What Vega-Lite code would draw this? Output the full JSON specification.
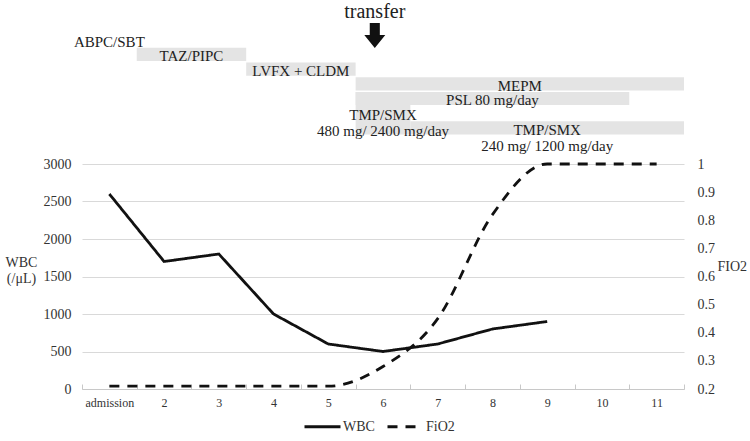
{
  "$schema": "https://vega.github.io/schema/vega-lite/v6.json",
  "padding": {"left": 5, "top": 0, "right": 0, "bottom": 0},
  "spacing": 3,
  "datasets": {
    "regimens": [
      {"label": "ABPC/SBT", "first_day": 1, "last_day": 1, "row": 0, "rows": 1},
      {"label": "TAZ/PIPC", "first_day": 2, "last_day": 3, "row": 1, "rows": 1},
      {"label": "LVFX + CLDM", "first_day": 4, "last_day": 5, "row": 2, "rows": 1},
      {"label": "MEPM", "first_day": 6, "last_day": 11, "row": 3, "rows": 1},
      {"label": "PSL 80 mg/day", "first_day": 6, "last_day": 10, "row": 4, "rows": 1},
      {"label": "TMP/SMX\n480 mg/ 2400 mg/day", "first_day": 6, "last_day": 6, "row": 4, "rows": 3},
      {"label": "TMP/SMX\n240 mg/ 1200 mg/day", "first_day": 7, "last_day": 11, "row": 6, "rows": 1}
    ],
    "events": [
      {"event": "transfer", "day": 5.85, "row": -1}
    ],
    "daily": [
      {"day": 1, "WBC": 2600, "FiO2": 0.21},
      {"day": 2, "WBC": 1700, "FiO2": 0.21},
      {"day": 3, "WBC": 1800, "FiO2": 0.21},
      {"day": 4, "WBC": 1000, "FiO2": 0.21},
      {"day": 5, "WBC": 600, "FiO2": 0.21},
      {"day": 6, "WBC": 500, "FiO2": 0.28},
      {"day": 7, "WBC": 600, "FiO2": 0.45},
      {"day": 8, "WBC": 800, "FiO2": 0.82},
      {"day": 9, "WBC": 900, "FiO2": 1.0},
      {"day": 10, "WBC": null, "FiO2": 1.0},
      {"day": 11, "WBC": null, "FiO2": 1.0}
    ]
  },
  "vconcat": [
    {
      "width": 602,
      "height": 147,
      "layer": [
        {
          "data": {"name": "regimens"},
          "transform": [
            {"filter": "datum.first_day > 1"},
            {"calculate": "datum.first_day - 0.5", "as": "x_from"},
            {"calculate": "datum.last_day + 0.5", "as": "x_to"},
            {"calculate": "datum.row - 0.45", "as": "y_from"},
            {"calculate": "datum.row + datum.rows - 0.55", "as": "y_to"}
          ],
          "mark": {"type": "rect", "color": "#e4e4e4"},
          "encoding": {
            "x": {"field": "x_from", "type": "quantitative", "scale": {"domain": [0.5, 11.5], "nice": false, "zero": false}, "axis": null},
            "x2": {"field": "x_to"},
            "y": {"field": "y_from", "type": "quantitative", "scale": {"domain": [-2.7, 7.3], "reverse": true, "nice": false, "zero": false}, "axis": null},
            "y2": {"field": "y_to"}
          }
        },
        {
          "data": {"name": "regimens"},
          "transform": [
            {"calculate": "(datum.first_day + datum.last_day) / 2", "as": "x_mid"},
            {"calculate": "datum.row + (datum.rows - 1) / 2", "as": "y_mid"}
          ],
          "mark": {"type": "text", "font": "Liberation Serif", "fontSize": 15, "lineBreak": "\n", "lineHeight": 16, "dy": 2, "color": "#222", "baseline": "middle", "align": "center"},
          "encoding": {
            "x": {"field": "x_mid", "type": "quantitative"},
            "y": {"field": "y_mid", "type": "quantitative"},
            "text": {"field": "label"}
          }
        },
        {
          "data": {"name": "events"},
          "mark": {"type": "text", "font": "Liberation Serif", "fontSize": 20, "yOffset": -13, "color": "#222", "baseline": "middle", "align": "center"},
          "encoding": {
            "x": {"field": "day", "type": "quantitative"},
            "y": {"field": "row", "type": "quantitative"},
            "text": {"field": "event"}
          }
        },
        {
          "data": {"name": "events"},
          "mark": {
            "type": "point",
            "shape": "M-0.48,-1.19 L0.48,-1.19 L0.48,-0.05 L1,-0.05 L0,1.19 L-1,-0.05 L-0.48,-0.05 Z",
            "size": 441,
            "filled": true,
            "opacity": 1,
            "color": "#111",
            "yOffset": 10.5
          },
          "encoding": {
            "x": {"field": "day", "type": "quantitative"},
            "y": {"field": "row", "type": "quantitative"}
          }
        }
      ]
    },
    {
      "width": 602,
      "height": 225,
      "data": {"name": "daily"},
      "encoding": {
        "x": {
          "field": "day",
          "type": "quantitative",
          "scale": {"domain": [0.5, 11.5], "nice": false, "zero": false},
          "axis": {
            "title": null,
            "values": [0.5, 1, 1.5, 2, 2.5, 3, 3.5, 4, 4.5, 5, 5.5, 6, 6.5, 7, 7.5, 8, 8.5, 9, 9.5, 10, 10.5, 11, 11.5],
            "labelExpr": "datum.value % 1 ? '' : (datum.value == 1 ? 'admission' : datum.value)",
            "labelFont": "Liberation Serif",
            "labelFontSize": 12,
            "labelOverlap": false,
            "labelFlush": false,
            "labelBound": false,
            "grid": false,
            "domainColor": "#c8c8c8",
            "tickColor": "#c8c8c8",
            "tickSize": -5,
            "tickOpacity": {"condition": {"test": "datum.value % 1 == 0", "value": 0}, "value": 1},
            "labelPadding": 13
          }
        }
      },
      "layer": [
        {
          "mark": {"type": "line", "strokeWidth": 2.8, "color": "#111"},
          "encoding": {
            "y": {
              "field": "WBC",
              "type": "quantitative",
              "scale": {"domain": [0, 3000], "nice": false},
              "axis": {
                "values": [0, 500, 1000, 1500, 2000, 2500, 3000],
                "format": "d",
                "labelFont": "Liberation Serif",
                "titleFont": "Liberation Serif",
                "title": ["WBC", "(/μL)"],
                "titleAngle": 0,
                "titleAlign": "center",
                "titleBaseline": "middle",
                "titleX": -61,
                "titleY": 98,
                "titleLineHeight": 16,
                "ticks": false,
                "domain": false,
                "grid": true,
                "gridColor": "#d9d9d9",
                "labelPadding": 11
              }
            },
            "strokeDash": {
              "datum": "WBC",
              "type": "nominal",
              "scale": {"domain": ["WBC", "FiO2"], "range": [[1, 0], [10, 8]]},
              "legend": {"title": null, "orient": "none", "legendX": 221, "legendY": 407}
            }
          }
        },
        {
          "mark": {"type": "line", "strokeWidth": 2.8, "color": "#111", "interpolate": "monotone"},
          "encoding": {
            "y": {
              "field": "FiO2",
              "type": "quantitative",
              "scale": {"domain": [0.2, 1], "nice": false, "zero": false},
              "axis": {
                "orient": "right",
                "values": [0.2, 0.3, 0.4, 0.5, 0.6, 0.7, 0.8, 0.9, 1],
                "format": ".1~f",
                "labelFont": "Liberation Serif",
                "titleFont": "Liberation Serif",
                "title": "FIO2",
                "titleAngle": 0,
                "titleAlign": "left",
                "titleBaseline": "middle",
                "titleX": 33,
                "titleY": 102,
                "ticks": false,
                "domain": false,
                "grid": false,
                "labelPadding": 13
              }
            },
            "strokeDash": {"datum": "FiO2", "type": "nominal"}
          }
        }
      ],
      "resolve": {"scale": {"y": "independent"}}
    }
  ],
  "resolve": {"scale": {"x": "independent", "y": "independent"}},
  "config": {
    "view": {"stroke": null},
    "font": "Liberation Serif",
    "axis": {
      "labelFont": "Liberation Serif",
      "titleFont": "Liberation Serif",
      "labelColor": "#333",
      "titleColor": "#333",
      "titleFontWeight": "normal",
      "labelFontSize": 14,
      "titleFontSize": 14
    },
    "legend": {
      "direction": "horizontal",
      "symbolType": "stroke",
      "symbolSize": 1296,
      "symbolStrokeWidth": 2.8,
      "symbolStrokeColor": "#111",
      "labelFont": "Liberation Serif",
      "labelFontSize": 14,
      "labelColor": "#333",
      "labelOffset": 1,
      "columnPadding": 6,
      "padding": 0
    }
  }
}
